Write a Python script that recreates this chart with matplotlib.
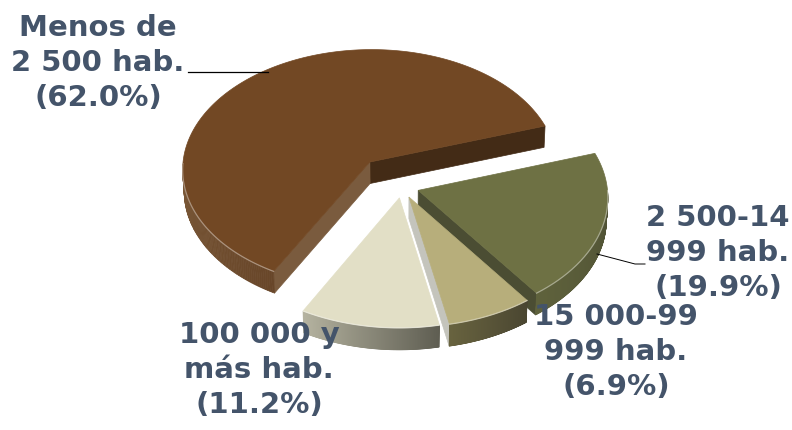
import numpy as np
import matplotlib.pyplot as plt
from matplotlib.patches import Polygon
from matplotlib.colors import to_rgb

# Population share by locality size (counter-clockwise from the right)
categories = ["Menos de\n2 500 hab.", "100 000 y\nmás hab.", "15 000-99\n999 hab.", "2 500-14\n999 hab."]
shares = [62.0, 11.2, 6.9, 19.9]

top_colors = ["#724824", "#e2dfc6", "#b7ae7b", "#6e7144"]
wall_light = ["#7c5a39", "#b6b4a1", "#68633f", "#5f623c"]
wall_dark = ["#684629", "#5f5e52", "#4a4631", "#4e5034"]
start_face = ["#432b16", "#c9c9c0", "#c4c4bc", "#4b4d33"]
end_face = ["#7a5b3e", "#c9c9c0", "#c4c4bc", "#4b4d33"]
explode = [0.27, 0.09, 0.09, 0.09]

# camera / pie geometry (pie radius = 1)
cx, cy = 402, 187
S = 189            # pixels per unit radius at the centre
D = 13.6           # camera distance
phi = np.radians(40)
T = 0.15           # slab thickness
start = 18.0

sph, cph = np.sin(phi), np.cos(phi)


def proj(u, v, h):
    z = D + v * cph - h * sph
    return cx + S * u * D / z, cy - S * (v * sph + h * cph) * D / z


fig = plt.figure(figsize=(7.92, 4.30), dpi=100)
ax = fig.add_axes([0, 0, 1, 1])
ax.set_xlim(0, 792)
ax.set_ylim(430, 0)
ax.axis("off")

spans = np.array(shares) / sum(shares) * 360.0
edges = start + np.concatenate([[0], np.cumsum(spans)])

slices = []
for i in range(len(shares)):
    a0, a1 = edges[i], edges[i + 1]
    mid = np.radians((a0 + a1) / 2)
    ou, ov = explode[i] * np.cos(mid), explode[i] * np.sin(mid)
    slices.append((np.sin(mid), i, a0, a1, ou, ov))


def mix(c1, c2, t):
    a, b = np.array(to_rgb(c1)), np.array(to_rgb(c2))
    return tuple(a + (b - a) * t)


# back slices first
for _, i, a0, a1, ou, ov in sorted(slices, reverse=True):
    def rimpt(th, h=0.0):
        t = np.radians(th)
        return proj(ou + np.cos(t), ov + np.sin(t), h)

    # cut faces turned toward the viewer
    for th, visible, col in ((a0, np.cos(np.radians(a0)) > 0, start_face[i]),
                             (a1, np.cos(np.radians(a1)) < 0, end_face[i])):
        if visible:
            face = [proj(ou, ov, 0), rimpt(th), rimpt(th, -T), proj(ou, ov, -T)]
            ax.add_patch(Polygon(face, closed=True, fc=col, ec=col, lw=0.5, zorder=2))

    # outer wall on the front half, shaded across the slice
    ths = np.linspace(a0, a1, 300)
    front = np.sin(np.radians(ths)) < 0
    if front.any():
        fth = ths[front]
        lo, hi = fth.min(), fth.max()
        for t0, t1 in zip(fth[:-1], fth[1:]):
            k = ((t0 + t1) / 2 - lo) / max(hi - lo, 1e-6)
            c = mix(wall_light[i], wall_dark[i], k)
            quad = [rimpt(t0), rimpt(t1), rimpt(t1, -T), rimpt(t0, -T)]
            ax.add_patch(Polygon(quad, closed=True, fc=c, ec=c, lw=0.5, zorder=2))

    # top face
    pts = [proj(ou, ov, 0)] + [rimpt(t) for t in ths]
    ax.add_patch(Polygon(pts, closed=True, fc=top_colors[i], ec=top_colors[i],
                         lw=0.5, zorder=2))
    # soft highlight along the front rim
    if front.any():
        rx_, ry_ = zip(*[rimpt(t) for t in ths[front]])
        ax.plot(rx_, ry_, color="white", alpha=0.4, lw=0.9, zorder=3)

# leader lines
ax.plot([188, 268], [72, 72], color="black", lw=0.9, zorder=3)
ax.plot([597, 635, 645], [254, 264, 264], color="black", lw=0.7, zorder=3)

label_xy = [(98, 63), (259, 370), (616, 352), (718, 253)]
for i, (x, y) in enumerate(label_xy):
    ax.text(x, y, f"{categories[i]}\n({shares[i]:.1f}%)", ha="center", va="center",
            fontsize=21, fontweight="bold", family="DejaVu Sans", color="#44546a",
            linespacing=1.3, zorder=4)

fig.savefig("out.png", dpi=100)
